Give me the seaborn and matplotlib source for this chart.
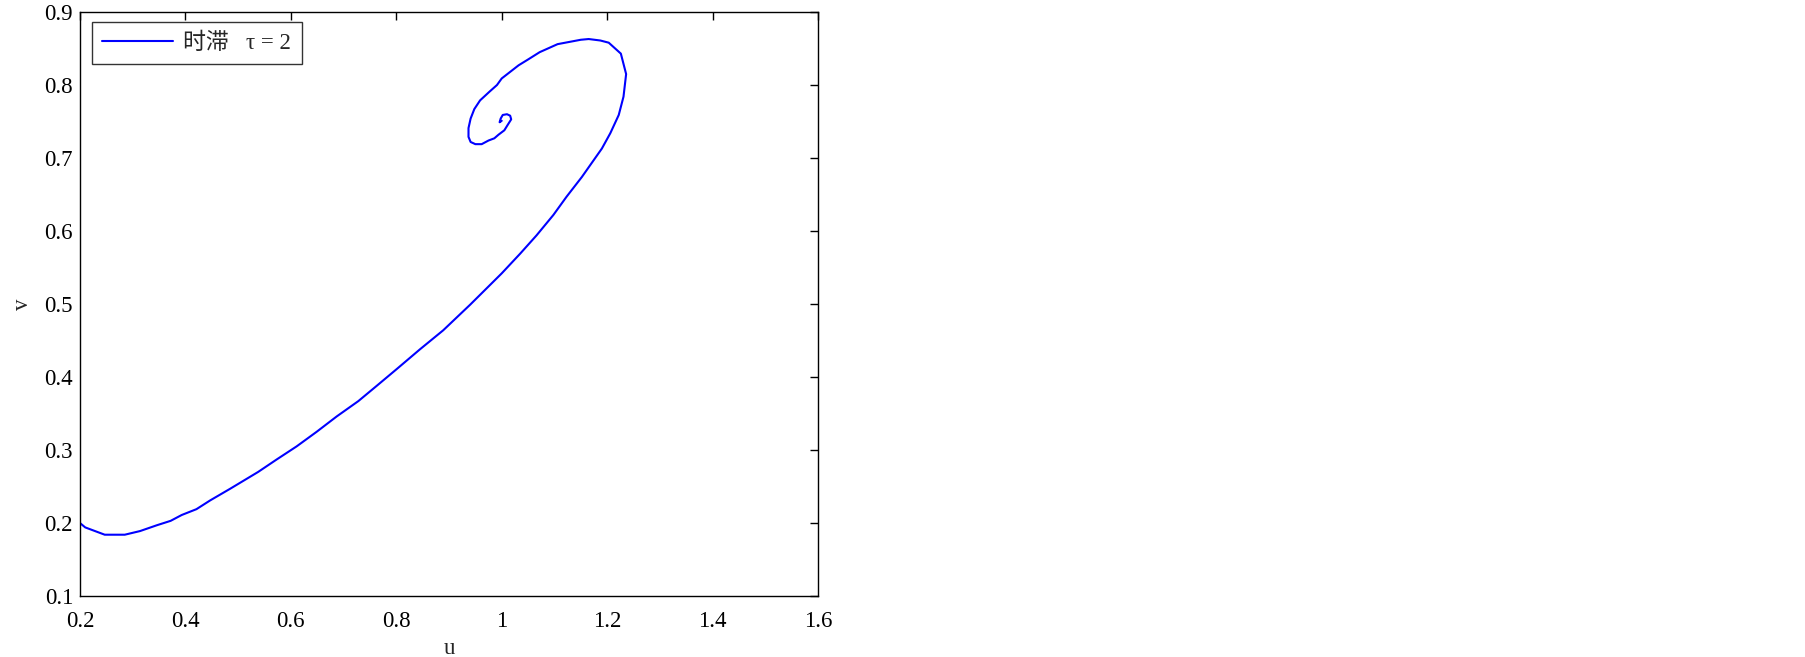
import pandas as pd
import seaborn as sns
import matplotlib.pyplot as plt

# phase trajectory (u, v)
u = [0.200, 0.210, 0.247, 0.285, 0.314, 0.346, 0.372, 0.393, 0.421, 0.447, 0.485,
     0.538, 0.573, 0.611, 0.649, 0.687, 0.728, 0.763, 0.801, 0.845, 0.889, 0.940,
     1.000, 1.035, 1.066, 1.098, 1.123, 1.152, 1.190, 1.206, 1.222, 1.231, 1.236,
     1.226, 1.203, 1.187, 1.165, 1.150, 1.106, 1.072, 1.050, 1.032, 1.000, 0.991,
     0.977, 0.959, 0.948, 0.941, 0.937, 0.937, 0.941, 0.950, 0.962, 0.975, 0.986,
     0.994, 1.005, 1.011, 1.018, 1.016, 1.010, 1.002, 0.998, 0.996, 1.000]
v = [0.200, 0.194, 0.184, 0.184, 0.189, 0.197, 0.203, 0.211, 0.219, 0.231, 0.247,
     0.270, 0.287, 0.305, 0.325, 0.346, 0.367, 0.388, 0.411, 0.438, 0.464, 0.499,
     0.542, 0.569, 0.594, 0.622, 0.647, 0.674, 0.713, 0.734, 0.759, 0.784, 0.815,
     0.843, 0.858, 0.861, 0.863, 0.862, 0.856, 0.845, 0.835, 0.827, 0.809, 0.800,
     0.791, 0.779, 0.767, 0.754, 0.741, 0.729, 0.722, 0.719, 0.719, 0.724, 0.727,
     0.732, 0.738, 0.745, 0.753, 0.758, 0.760, 0.759, 0.754, 0.749, 0.751]

x_ticks = [0.2, 0.4, 0.6, 0.8, 1.0, 1.2, 1.4, 1.6]
x_tick_labels = ["0.2", "0.4", "0.6", "0.8", "1", "1.2", "1.4", "1.6"]
y_ticks = [0.1, 0.2, 0.3, 0.4, 0.5, 0.6, 0.7, 0.8, 0.9]
y_tick_labels = ["0.1", "0.2", "0.3", "0.4", "0.5", "0.6", "0.7", "0.8", "0.9"]
legend_label = "时滞   τ = 2"

data = pd.DataFrame({"u": u, "v": v})

sns.set_style("white")
plt.rcParams["font.family"] = ["Liberation Serif", "Noto Sans CJK SC"]

fig = plt.figure(figsize=(18.05, 6.57), dpi=100)
ax = fig.add_axes([0.0443, 0.0928, 0.4089, 0.8889])

sns.lineplot(data=data, x="u", y="v", sort=False, estimator=None,
             color="#0000ff", linewidth=1.5, label=legend_label, ax=ax)

ax.set_xlim(0.2, 1.6)
ax.set_ylim(0.1, 0.9)
ax.set_xticks(x_ticks)
ax.set_xticklabels(x_tick_labels)
ax.set_yticks(y_ticks)
ax.set_yticklabels(y_tick_labels)

ax.tick_params(axis="both", direction="in", length=6, width=1, color="black",
               labelsize=16.5, labelcolor="black", top=True, right=True)
ax.tick_params(axis="x", pad=11)
ax.tick_params(axis="y", pad=5)

for s in ax.spines.values():
    s.set_visible(True)
    s.set_color("black")
    s.set_linewidth(1)

ax.set_xlabel("u", fontsize=16.5, labelpad=4)
ax.set_ylabel("v", fontsize=16.5, labelpad=8)

leg = ax.legend(loc="upper left", bbox_to_anchor=(0.016, 0.983), fontsize=16.5,
                frameon=True, fancybox=False, handlelength=3.1, handletextpad=0.45,
                borderpad=0.45, borderaxespad=0)
leg.get_frame().set_edgecolor("black")
leg.get_frame().set_linewidth(1)

fig.savefig("out.png", dpi=100)
